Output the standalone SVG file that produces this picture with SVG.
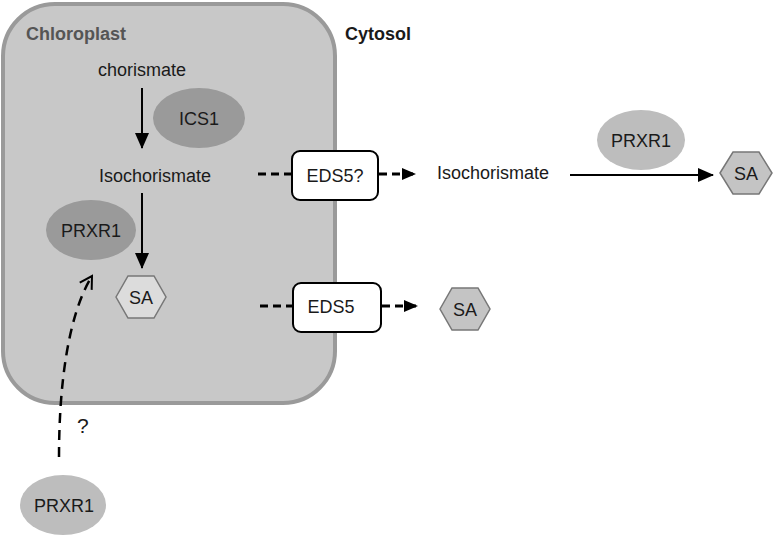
<svg xmlns="http://www.w3.org/2000/svg" width="774" height="538" viewBox="0 0 774 538">
<defs>
<style>
text{font-family:"Liberation Sans",Arial,sans-serif;font-size:18px;fill:#1a1a1a}
.lbl{font-weight:bold}
.c{text-anchor:middle}
.enzIn{fill:#9a9a9a}
.enzOut{fill:#bdbdbd}
.hex{fill:#dcdcdc;stroke:#777;stroke-width:1.5}
.hexO{fill:#c4c4c4;stroke:#777;stroke-width:1.5}
.box{fill:#fff;stroke:#000;stroke-width:2}
.solid{stroke:#000;stroke-width:2;fill:none}
.dash{stroke:#000;stroke-width:3;fill:none;stroke-dasharray:8 5}
.dashThin{stroke:#000;stroke-width:2.5;fill:none;stroke-dasharray:10 7}
</style>
<marker id="ah" markerWidth="14" markerHeight="12" refX="13" refY="6" orient="auto" markerUnits="userSpaceOnUse" viewBox="0 0 14 12">
<path d="M0,0 L14,6 L0,12 z" fill="#000"/>
</marker>
<marker id="ahL" markerWidth="16" markerHeight="14" refX="15" refY="7" orient="auto" markerUnits="userSpaceOnUse" viewBox="0 0 16 14">
<path d="M0,0 L16,7 L0,14 z" fill="#000"/>
</marker>
<marker id="open" markerWidth="16" markerHeight="16" refX="14" refY="8" orient="auto" markerUnits="userSpaceOnUse" viewBox="0 0 16 16">
<path d="M2,1 L14,8 L2,15" fill="none" stroke="#000" stroke-width="2"/>
</marker>
</defs>

<g id="chloroplast">
<rect x="3" y="4" width="332" height="399" rx="52" ry="52" fill="#c8c8c8" stroke="#9a9a9a" stroke-width="4"/>
<text class="lbl" x="26" y="40" style="fill:#555">Chloroplast</text>
</g>
<g id="cytosol"><text class="lbl" x="345" y="40">Cytosol</text></g>

<g id="connectors">
<line class="solid" x1="142" y1="88" x2="142" y2="148" marker-end="url(#ahL)"/>
<line class="solid" x1="142" y1="193" x2="142" y2="268" marker-end="url(#ahL)"/>
<path class="dashThin" d="M59 457 C59 385 68 315 92 276" marker-end="url(#open)"/>
<line class="dash" x1="258" y1="174" x2="292" y2="174"/>
<line class="dash" x1="379" y1="174" x2="415" y2="174" marker-end="url(#ah)"/>
<line class="dash" x1="260" y1="306" x2="293" y2="306"/>
<line class="dash" x1="382" y1="306" x2="417" y2="306" marker-end="url(#ah)"/>
<line class="solid" x1="570" y1="175" x2="713" y2="175" marker-end="url(#ahL)"/>
</g>

<g id="chorismate"><text class="c" x="142" y="76">chorismate</text></g>
<g id="ics1"><ellipse class="enzIn" cx="199" cy="118" rx="46" ry="30"/><text class="c" x="199" y="125">ICS1</text></g>
<g id="isochorismate-in"><text class="c" x="155" y="182">Isochorismate</text></g>
<g id="prxr1-in"><ellipse class="enzIn" cx="91" cy="230" rx="45" ry="30"/><text class="c" x="91" y="237">PRXR1</text></g>
<g id="sa-in"><polygon class="hex" points="116,297 128,276 154,276 166,297 154,318 128,318"/><text class="c" x="141" y="304">SA</text></g>
<g id="question"><text x="77" y="433" style="font-size:21px">?</text></g>
<g id="prxr1-bottom"><ellipse class="enzOut" cx="63" cy="505" rx="43" ry="30"/><text class="c" x="64" y="512">PRXR1</text></g>

<g id="eds5q"><rect class="box" x="292" y="151" width="86" height="49" rx="8"/><text class="c" x="335" y="182">EDS5?</text></g>
<g id="eds5"><rect class="box" x="293" y="283" width="88" height="49" rx="8"/><text class="c" x="331" y="313">EDS5</text></g>

<g id="isochorismate-out"><text class="c" x="493" y="179">Isochorismate</text></g>
<g id="prxr1-out"><ellipse class="enzOut" cx="641" cy="140" rx="44" ry="30"/><text class="c" x="641" y="147">PRXR1</text></g>
<g id="sa-right"><polygon class="hexO" points="720,173 733,152 759,152 772,173 759,194 733,194"/><text class="c" x="746" y="180">SA</text></g>
<g id="sa-bottom"><polygon class="hexO" points="440,309 452,288 478,288 490,309 478,330 452,330"/><text class="c" x="465" y="316">SA</text></g>
</svg>
